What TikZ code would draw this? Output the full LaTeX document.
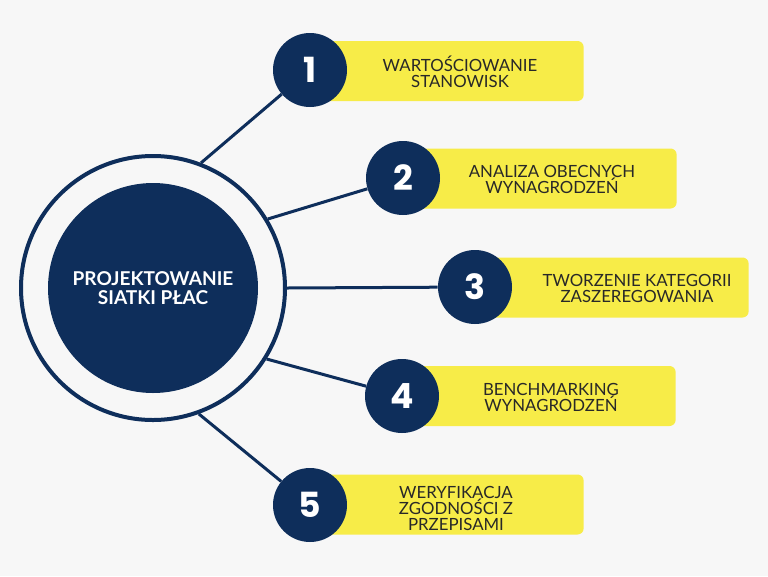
\documentclass[tikz,border=0pt]{standalone}
\usepackage{fontspec}
\setmainfont{Lato}
\newfontfamily\numfont{Poppins}
\definecolor{navy}{RGB}{14,46,91}
\definecolor{lemon}{RGB}{247,236,72}
\definecolor{paper}{RGB}{247,247,247}
\definecolor{ink}{RGB}{40,40,40}

\begin{document}
\begin{tikzpicture}[x=0.75pt,y=-0.75pt]
   \tikzstyle{ring}=[circle,draw=navy,line width=3pt,minimum size=198pt,inner sep=0pt]
   \tikzstyle{hub}=[circle,fill=navy,minimum size=157.5pt,text=white,font=\bfseries\fontsize{14.3}{14.8}\selectfont,align=center]
   \tikzstyle{num}=[circle,fill=navy,minimum size=55.5pt,inner sep=0pt,text=white,font=\numfont\bfseries\fontsize{26}{26}\selectfont]
   \tikzstyle{box}=[fill=lemon,rounded corners=4.5pt,minimum width=205pt,minimum height=45pt,anchor=west]
   \tikzstyle{lbl}=[text=ink,align=center,font=\fontsize{12.6}{12}\selectfont]
\fill[paper] (0,0) rectangle (768,576);

\node[ring](ring) at (153,288) {};
\node[hub](hub) at (153,288) {PROJEKTOWANIE\\SIATKI PŁAC};

\node[box](box1) at (310,71) {};
\node[num](n1) at (310,70) {1};
\node[lbl](t1) at (460,72) {WARTOŚCIOWANIE\\STANOWISK};

\node[box](box2) at (403,178.5) {};
\node[num](n2) at (403,178) {2};
\node[lbl](t2) at (552,179.5) {ANALIZA OBECNYCH\\WYNAGRODZEŃ};

\node[box](box3) at (475,287.5) {};
\node[num](n3) at (475,287) {3};
\node[lbl](t3) at (637,288.5) {TWORZENIE KATEGORII\\ZASZEREGOWANIA};

\node[box](box4) at (402,396) {};
\node[num](n4) at (402,396) {4};
\node[lbl](t4) at (551,397) {BENCHMARKING\\WYNAGRODZEŃ};

\node[box](box5) at (310,504.5) {};
\node[num](n5) at (310,505) {5};
\node[lbl](t5) at (456,508) {WERYFIKACJA\\ZGODNOŚCI Z\\PRZEPISAMI};

\tikzstyle{every path}=[draw=navy,line width=2.25pt]
\path
(ring.69) edge (n1)
(ring.31) edge (n2)
(ring.0) edge (n3)
(ring.-32) edge (n4)
(ring.-70) edge (n5);

\end{tikzpicture}
\end{document}
